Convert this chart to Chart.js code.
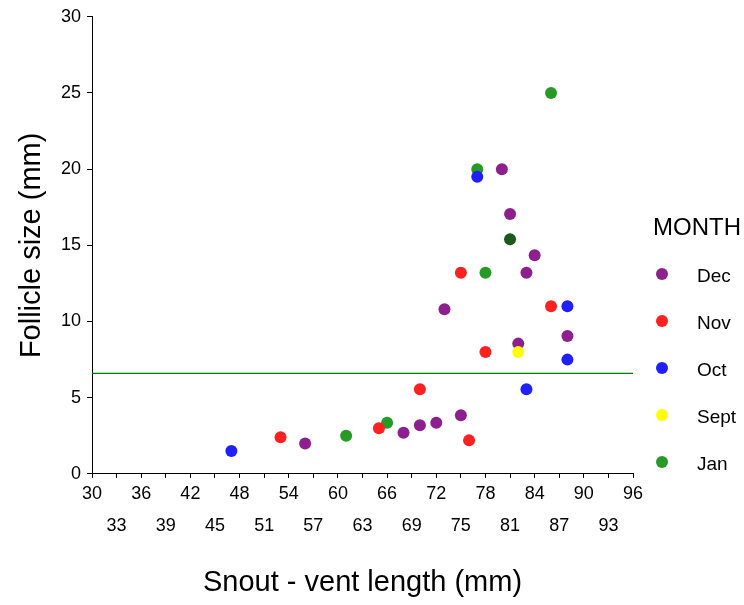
<!DOCTYPE html>
<html>
<head>
<meta charset="utf-8">
<script src="https://cdn.jsdelivr.net/npm/chart.js@4.4.1/dist/chart.umd.min.js"></script>
<style>
  body { margin: 0; background: #fff; }
</style>
</head>
<body>
<canvas id="chart" width="744" height="605"></canvas>
<script>
// values
const decX = [56, 68, 70, 72, 73, 75, 80, 81, 82, 83, 84, 88]
const decY = [2.0, 2.7, 3.2, 3.35, 10.8, 3.85, 20.0, 17.05, 8.55, 13.2, 14.35, 9.05]
const novX = [53, 65, 70, 75, 76, 78, 86]
const novY = [2.4, 3.0, 5.55, 13.2, 2.2, 8.0, 11.0]
const octX = [47, 77, 83, 88, 88]
const octY = [1.5, 19.5, 5.55, 11.0, 7.5]
const septX = [82]
const septY = [8.0]
const janX = [61, 66, 77, 78, 81, 86]
const janY = [2.5, 3.35, 20.0, 13.2, 15.4, 25.0]

const cutoffY = 6.6
const xTickValues = [30, 33, 36, 39, 42, 45, 48, 51, 54, 57, 60, 63, 66, 69, 72, 75, 78, 81, 84, 87, 90, 93, 96]
const yTickValues = [0, 5, 10, 15, 20, 25, 30]
const legendTitle = 'MONTH'

const FONT = 'Arial, "Liberation Sans", sans-serif'
Chart.defaults.font.family = FONT
Chart.defaults.color = '#000'

const pts = (xs, ys) => xs.map((x, i) => ({ x: x, y: ys[i] }))

function dotSet(label, xs, ys, color, order) {
  return {
    label: label,
    data: pts(xs, ys),
    backgroundColor: color,
    borderColor: color,
    legendColor: color,
    inLegend: true,
    pointRadius: 6,
    borderWidth: 0,
    order: order
  }
}

const janSet = dotSet('Jan', janX, janY, '#259a25', 5)
// the point at (81, 15.4) is drawn darker in the reference
janSet.backgroundColor = (ctx) => ctx.dataIndex === 4 ? '#1c5a1c' : '#259a25'

const monthLegend = {
  id: 'monthLegend',
  afterDraw(chart) {
    const ctx = chart.ctx
    ctx.save()
    ctx.textBaseline = 'middle'
    ctx.textAlign = 'left'
    ctx.fillStyle = '#000'
    ctx.font = '24px ' + FONT
    ctx.fillText(legendTitle, 653, 228)
    ctx.font = '19px ' + FONT
    chart.data.datasets.filter(d => d.inLegend).forEach((d, i) => {
      const y = 274 + i * 47
      ctx.beginPath()
      ctx.arc(662, y, 6, 0, Math.PI * 2)
      ctx.fillStyle = d.legendColor
      ctx.fill()
      ctx.fillStyle = '#000'
      ctx.fillText(d.label, 697, y + 3)
    })
    ctx.restore()
  }
}

new Chart(document.getElementById('chart'), {
  type: 'scatter',
  data: {
    datasets: [
      dotSet('Dec', decX, decY, '#8e1f8e', 4),
      dotSet('Nov', novX, novY, '#ff2020', 3),
      dotSet('Oct', octX, octY, '#2020ff', 2),
      dotSet('Sept', septX, septY, '#ffff00', 1),
      janSet,
      {
        label: 'cutoff',
        data: [{ x: 30, y: cutoffY }, { x: 96, y: cutoffY }],
        showLine: true,
        borderColor: '#007a00',
        borderWidth: 1.4,
        pointRadius: 0,
        order: 6
      }
    ]
  },
  options: {
    responsive: false,
    animation: false,
    events: [],
    layout: { padding: { left: 14.6, top: 15.5, right: 111, bottom: 2.3 } },
    plugins: {
      legend: { display: false },
      tooltip: { enabled: false }
    },
    scales: {
      x: {
        type: 'linear',
        min: 30,
        max: 96,
        afterBuildTicks: (s) => { s.ticks = xTickValues.map(v => ({ value: v })) },
        grid: { display: true, drawOnChartArea: false, drawTicks: true, tickLength: 4, color: '#000' },
        border: { display: true, color: '#000', width: 1 },
        ticks: {
          autoSkip: false,
          maxRotation: 0,
          padding: 0,
          font: { size: 18, lineHeight: 1.778 },
          callback: (v, i) => i % 2 ? ['', String(v)] : String(v)
        },
        title: {
          display: true,
          text: 'Snout - vent length (mm)',
          font: { size: 29 },
          padding: { top: 24, bottom: 2 }
        }
      },
      y: {
        type: 'linear',
        min: 0,
        max: 30,
        afterBuildTicks: (s) => { s.ticks = yTickValues.map(v => ({ value: v })) },
        grid: { display: true, drawOnChartArea: false, drawTicks: true, tickLength: 5, color: '#000' },
        border: { display: true, color: '#000', width: 1 },
        ticks: { padding: 6, font: { size: 18 } },
        title: {
          display: true,
          text: 'Follicle size (mm)',
          font: { size: 29 },
          padding: { top: 0, bottom: 5.6 }
        }
      }
    }
  },
  plugins: [monthLegend]
})
</script>
</body>
</html>
